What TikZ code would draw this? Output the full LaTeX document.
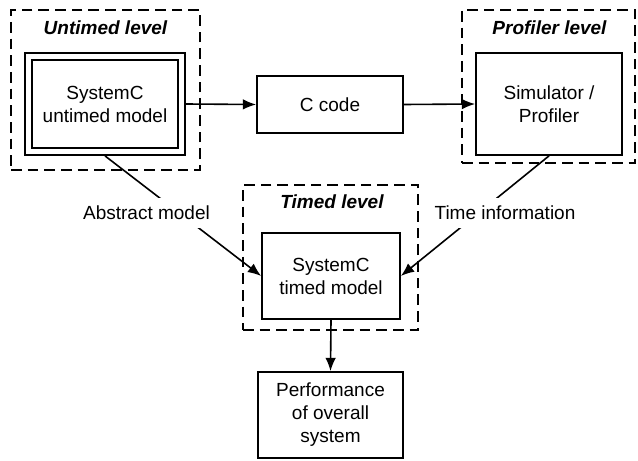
\documentclass[tikz,border=0pt]{standalone}
\usepackage{fontspec}
\setmainfont{Liberation Sans}
\usetikzlibrary{arrows.meta}
\tikzset{>={Latex[length=10pt,width=8pt]}}

\begin{document}
\begin{tikzpicture}[x=0.75pt,y=-0.75pt,line width=1.2pt,
  txt/.style={font=\fontsize{14.25pt}{17.25pt}\selectfont, align=center},
  box/.style={txt,draw,line width=1.3pt,inner sep=0pt},
  level/.style={draw,dash pattern=on 8pt off 4.5pt,line width=1.3pt,inner sep=0pt},
  title/.style={txt,font=\fontsize{14.25pt}{17.25pt}\selectfont\bfseries\itshape},
  lbl/.style={txt,fill=white,inner sep=6pt}]
  \useasboundingbox (0,0) rectangle (638,460);

  % Untimed level
  \node[level,minimum width=141.75pt,minimum height=120pt] (untimedlvl) at (105.5,90) {};
  \node[title] (untimedttl) at (105.5,28) {Untimed level};
  \node[box,double,double distance=4pt,outer sep=3.3pt,minimum width=114.75pt,minimum height=71.25pt] (untimed) at (105,104) {SystemC\\untimed model};

  % C code
  \node[box,minimum width=109.5pt,minimum height=42.75pt] (ccode) at (330,104.5) {C code};

  % Profiler level
  \node[level,minimum width=129.75pt,minimum height=114.75pt] (proflvl) at (548.5,86.5) {};
  \node[title] (profttl) at (549.5,28) {Profiler level};
  \node[box,minimum width=109.5pt,minimum height=76.5pt] (sim) at (549,104) {Simulator /\\Profiler};

  % Timed level
  \node[level,minimum width=131.25pt,minimum height=108.75pt] (timedlvl) at (330.5,257.5) {};
  \node[title] (timedttl) at (332,202) {Timed level};
  \node[box,minimum width=103.5pt,minimum height=64.5pt] (timed) at (331,276) {SystemC\\timed model};

  % Performance
  \node[box,minimum width=108.75pt,minimum height=64.5pt] (perf) at (330.5,415) {Performance\\of overall\\system};

  % connectors
  \draw[->] (untimed.east) -- (ccode.west);
  \draw[->] (ccode.east) -- (sim.west);
  \draw[->] (untimed.south) -- (timed.west);
  \draw[->] (sim.south) -- (timed.east);
  \draw[->] (timed.south) -- (perf.north);

  % labels
  \node[lbl] (abstract) at (146.5,213) {Abstract model};
  \node[lbl] (timeinfo) at (505,213) {Time information};
\end{tikzpicture}
\end{document}
